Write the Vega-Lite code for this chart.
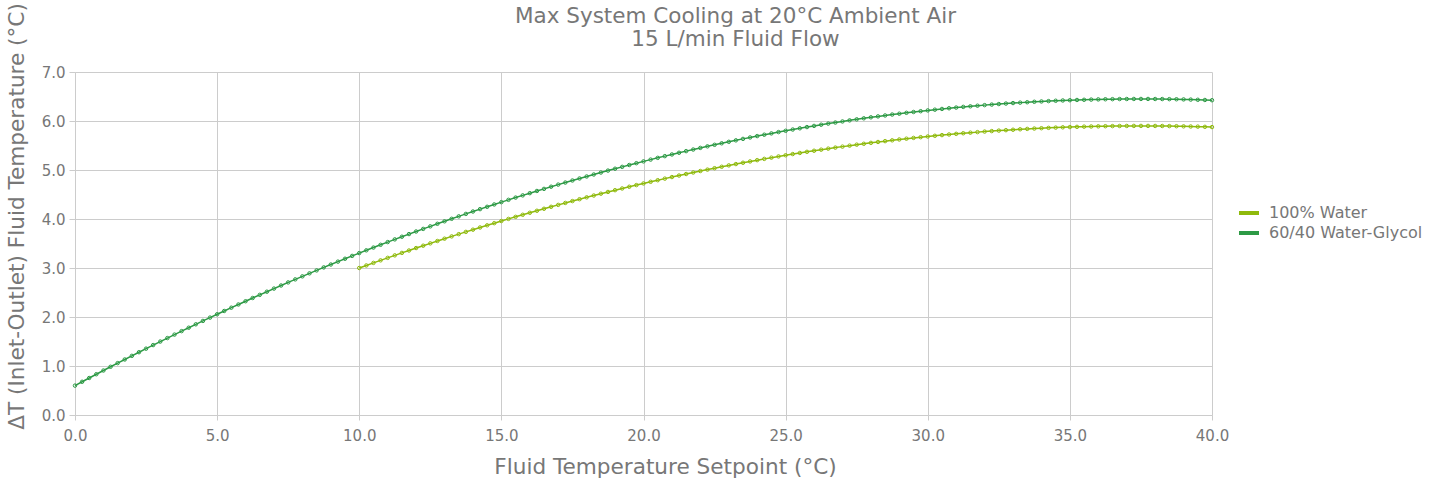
{
"$schema": "https://vega.github.io/schema/vega-lite/v6.json",
"autosize": {"type": "none"},
"width": 1137,
"height": 343,
"padding": {"left": 75, "top": 72, "right": 228, "bottom": 68},
"background": "white",
"title": {
  "text": ["Max System Cooling at 20°C Ambient Air", "15 L/min Fluid Flow\u00a0\u00a0\u00a0\u00a0"],
  "fontSize": 21.5, "font": "DejaVu Sans", "fontWeight": "normal", "color": "#777777",
  "lineHeight": 23, "anchor": "middle", "frame": "group", "dx": 92, "offset": -48
},
"config": {
  "view": {"stroke": null},
  "font": "DejaVu Sans",
  "axis": {
    "gridColor": "#cccccc", "domainColor": "#cccccc", "tickColor": "#cccccc",
    "labelColor": "#777777", "titleColor": "#777777", "labelFont": "DejaVu Sans", "titleFont": "DejaVu Sans",
    "labelFontSize": 15, "titleFontSize": 21.6, "titleFontWeight": "normal",
    "labelFlush": false, "labelOverlap": false
  },
  "legend": {"labelFont": "DejaVu Sans", "labelFontSize": 16, "labelColor": "#777777"}
},
"datasets": {
"d": [
{"x":0,"y":0.600,"s":"60/40 Water-Glycol"},{"x":0.25,"y":0.678,"s":"60/40 Water-Glycol"},{"x":0.5,"y":0.755,"s":"60/40 Water-Glycol"},{"x":0.75,"y":0.832,"s":"60/40 Water-Glycol"},
{"x":1,"y":0.908,"s":"60/40 Water-Glycol"},{"x":1.25,"y":0.984,"s":"60/40 Water-Glycol"},{"x":1.5,"y":1.059,"s":"60/40 Water-Glycol"},{"x":1.75,"y":1.133,"s":"60/40 Water-Glycol"},
{"x":2,"y":1.207,"s":"60/40 Water-Glycol"},{"x":2.25,"y":1.281,"s":"60/40 Water-Glycol"},{"x":2.5,"y":1.354,"s":"60/40 Water-Glycol"},{"x":2.75,"y":1.427,"s":"60/40 Water-Glycol"},
{"x":3,"y":1.499,"s":"60/40 Water-Glycol"},{"x":3.25,"y":1.570,"s":"60/40 Water-Glycol"},{"x":3.5,"y":1.641,"s":"60/40 Water-Glycol"},{"x":3.75,"y":1.712,"s":"60/40 Water-Glycol"},
{"x":4,"y":1.781,"s":"60/40 Water-Glycol"},{"x":4.25,"y":1.851,"s":"60/40 Water-Glycol"},{"x":4.5,"y":1.920,"s":"60/40 Water-Glycol"},{"x":4.75,"y":1.988,"s":"60/40 Water-Glycol"},
{"x":5,"y":2.056,"s":"60/40 Water-Glycol"},{"x":5.25,"y":2.123,"s":"60/40 Water-Glycol"},{"x":5.5,"y":2.190,"s":"60/40 Water-Glycol"},{"x":5.75,"y":2.256,"s":"60/40 Water-Glycol"},
{"x":6,"y":2.322,"s":"60/40 Water-Glycol"},{"x":6.25,"y":2.388,"s":"60/40 Water-Glycol"},{"x":6.5,"y":2.452,"s":"60/40 Water-Glycol"},{"x":6.75,"y":2.516,"s":"60/40 Water-Glycol"},
{"x":7,"y":2.580,"s":"60/40 Water-Glycol"},{"x":7.25,"y":2.643,"s":"60/40 Water-Glycol"},{"x":7.5,"y":2.706,"s":"60/40 Water-Glycol"},{"x":7.75,"y":2.768,"s":"60/40 Water-Glycol"},
{"x":8,"y":2.830,"s":"60/40 Water-Glycol"},{"x":8.25,"y":2.891,"s":"60/40 Water-Glycol"},{"x":8.5,"y":2.951,"s":"60/40 Water-Glycol"},{"x":8.75,"y":3.012,"s":"60/40 Water-Glycol"},
{"x":9,"y":3.071,"s":"60/40 Water-Glycol"},{"x":9.25,"y":3.130,"s":"60/40 Water-Glycol"},{"x":9.5,"y":3.189,"s":"60/40 Water-Glycol"},{"x":9.75,"y":3.247,"s":"60/40 Water-Glycol"},
{"x":10,"y":3.304,"s":"60/40 Water-Glycol"},{"x":10.25,"y":3.361,"s":"60/40 Water-Glycol"},{"x":10.5,"y":3.417,"s":"60/40 Water-Glycol"},{"x":10.75,"y":3.473,"s":"60/40 Water-Glycol"},
{"x":11,"y":3.529,"s":"60/40 Water-Glycol"},{"x":11.25,"y":3.584,"s":"60/40 Water-Glycol"},{"x":11.5,"y":3.638,"s":"60/40 Water-Glycol"},{"x":11.75,"y":3.692,"s":"60/40 Water-Glycol"},
{"x":12,"y":3.745,"s":"60/40 Water-Glycol"},{"x":12.25,"y":3.798,"s":"60/40 Water-Glycol"},{"x":12.5,"y":3.850,"s":"60/40 Water-Glycol"},{"x":12.75,"y":3.902,"s":"60/40 Water-Glycol"},
{"x":13,"y":3.953,"s":"60/40 Water-Glycol"},{"x":13.25,"y":4.004,"s":"60/40 Water-Glycol"},{"x":13.5,"y":4.054,"s":"60/40 Water-Glycol"},{"x":13.75,"y":4.104,"s":"60/40 Water-Glycol"},
{"x":14,"y":4.153,"s":"60/40 Water-Glycol"},{"x":14.25,"y":4.201,"s":"60/40 Water-Glycol"},{"x":14.5,"y":4.249,"s":"60/40 Water-Glycol"},{"x":14.75,"y":4.297,"s":"60/40 Water-Glycol"},
{"x":15,"y":4.344,"s":"60/40 Water-Glycol"},{"x":15.25,"y":4.391,"s":"60/40 Water-Glycol"},{"x":15.5,"y":4.437,"s":"60/40 Water-Glycol"},{"x":15.75,"y":4.482,"s":"60/40 Water-Glycol"},
{"x":16,"y":4.527,"s":"60/40 Water-Glycol"},{"x":16.25,"y":4.572,"s":"60/40 Water-Glycol"},{"x":16.5,"y":4.615,"s":"60/40 Water-Glycol"},{"x":16.75,"y":4.659,"s":"60/40 Water-Glycol"},
{"x":17,"y":4.702,"s":"60/40 Water-Glycol"},{"x":17.25,"y":4.744,"s":"60/40 Water-Glycol"},{"x":17.5,"y":4.786,"s":"60/40 Water-Glycol"},{"x":17.75,"y":4.827,"s":"60/40 Water-Glycol"},
{"x":18,"y":4.868,"s":"60/40 Water-Glycol"},{"x":18.25,"y":4.908,"s":"60/40 Water-Glycol"},{"x":18.5,"y":4.948,"s":"60/40 Water-Glycol"},{"x":18.75,"y":4.988,"s":"60/40 Water-Glycol"},
{"x":19,"y":5.026,"s":"60/40 Water-Glycol"},{"x":19.25,"y":5.064,"s":"60/40 Water-Glycol"},{"x":19.5,"y":5.102,"s":"60/40 Water-Glycol"},{"x":19.75,"y":5.139,"s":"60/40 Water-Glycol"},
{"x":20,"y":5.176,"s":"60/40 Water-Glycol"},{"x":20.25,"y":5.212,"s":"60/40 Water-Glycol"},{"x":20.5,"y":5.248,"s":"60/40 Water-Glycol"},{"x":20.75,"y":5.283,"s":"60/40 Water-Glycol"},
{"x":21,"y":5.317,"s":"60/40 Water-Glycol"},{"x":21.25,"y":5.352,"s":"60/40 Water-Glycol"},{"x":21.5,"y":5.385,"s":"60/40 Water-Glycol"},{"x":21.75,"y":5.418,"s":"60/40 Water-Glycol"},
{"x":22,"y":5.451,"s":"60/40 Water-Glycol"},{"x":22.25,"y":5.483,"s":"60/40 Water-Glycol"},{"x":22.5,"y":5.514,"s":"60/40 Water-Glycol"},{"x":22.75,"y":5.545,"s":"60/40 Water-Glycol"},
{"x":23,"y":5.575,"s":"60/40 Water-Glycol"},{"x":23.25,"y":5.605,"s":"60/40 Water-Glycol"},{"x":23.5,"y":5.635,"s":"60/40 Water-Glycol"},{"x":23.75,"y":5.664,"s":"60/40 Water-Glycol"},
{"x":24,"y":5.692,"s":"60/40 Water-Glycol"},{"x":24.25,"y":5.720,"s":"60/40 Water-Glycol"},{"x":24.5,"y":5.747,"s":"60/40 Water-Glycol"},{"x":24.75,"y":5.774,"s":"60/40 Water-Glycol"},
{"x":25,"y":5.800,"s":"60/40 Water-Glycol"},{"x":25.25,"y":5.826,"s":"60/40 Water-Glycol"},{"x":25.5,"y":5.851,"s":"60/40 Water-Glycol"},{"x":25.75,"y":5.876,"s":"60/40 Water-Glycol"},
{"x":26,"y":5.900,"s":"60/40 Water-Glycol"},{"x":26.25,"y":5.924,"s":"60/40 Water-Glycol"},{"x":26.5,"y":5.947,"s":"60/40 Water-Glycol"},{"x":26.75,"y":5.969,"s":"60/40 Water-Glycol"},
{"x":27,"y":5.991,"s":"60/40 Water-Glycol"},{"x":27.25,"y":6.013,"s":"60/40 Water-Glycol"},{"x":27.5,"y":6.034,"s":"60/40 Water-Glycol"},{"x":27.75,"y":6.055,"s":"60/40 Water-Glycol"},
{"x":28,"y":6.075,"s":"60/40 Water-Glycol"},{"x":28.25,"y":6.094,"s":"60/40 Water-Glycol"},{"x":28.5,"y":6.113,"s":"60/40 Water-Glycol"},{"x":28.75,"y":6.132,"s":"60/40 Water-Glycol"},
{"x":29,"y":6.149,"s":"60/40 Water-Glycol"},{"x":29.25,"y":6.167,"s":"60/40 Water-Glycol"},{"x":29.5,"y":6.184,"s":"60/40 Water-Glycol"},{"x":29.75,"y":6.200,"s":"60/40 Water-Glycol"},
{"x":30,"y":6.216,"s":"60/40 Water-Glycol"},{"x":30.25,"y":6.231,"s":"60/40 Water-Glycol"},{"x":30.5,"y":6.246,"s":"60/40 Water-Glycol"},{"x":30.75,"y":6.260,"s":"60/40 Water-Glycol"},
{"x":31,"y":6.274,"s":"60/40 Water-Glycol"},{"x":31.25,"y":6.288,"s":"60/40 Water-Glycol"},{"x":31.5,"y":6.300,"s":"60/40 Water-Glycol"},{"x":31.75,"y":6.312,"s":"60/40 Water-Glycol"},
{"x":32,"y":6.324,"s":"60/40 Water-Glycol"},{"x":32.25,"y":6.335,"s":"60/40 Water-Glycol"},{"x":32.5,"y":6.346,"s":"60/40 Water-Glycol"},{"x":32.75,"y":6.356,"s":"60/40 Water-Glycol"},
{"x":33,"y":6.366,"s":"60/40 Water-Glycol"},{"x":33.25,"y":6.375,"s":"60/40 Water-Glycol"},{"x":33.5,"y":6.383,"s":"60/40 Water-Glycol"},{"x":33.75,"y":6.392,"s":"60/40 Water-Glycol"},
{"x":34,"y":6.399,"s":"60/40 Water-Glycol"},{"x":34.25,"y":6.406,"s":"60/40 Water-Glycol"},{"x":34.5,"y":6.413,"s":"60/40 Water-Glycol"},{"x":34.75,"y":6.419,"s":"60/40 Water-Glycol"},
{"x":35,"y":6.424,"s":"60/40 Water-Glycol"},{"x":35.25,"y":6.429,"s":"60/40 Water-Glycol"},{"x":35.5,"y":6.433,"s":"60/40 Water-Glycol"},{"x":35.75,"y":6.437,"s":"60/40 Water-Glycol"},
{"x":36,"y":6.441,"s":"60/40 Water-Glycol"},{"x":36.25,"y":6.444,"s":"60/40 Water-Glycol"},{"x":36.5,"y":6.446,"s":"60/40 Water-Glycol"},{"x":36.75,"y":6.448,"s":"60/40 Water-Glycol"},
{"x":37,"y":6.449,"s":"60/40 Water-Glycol"},{"x":37.25,"y":6.450,"s":"60/40 Water-Glycol"},{"x":37.5,"y":6.450,"s":"60/40 Water-Glycol"},{"x":37.75,"y":6.450,"s":"60/40 Water-Glycol"},
{"x":38,"y":6.449,"s":"60/40 Water-Glycol"},{"x":38.25,"y":6.448,"s":"60/40 Water-Glycol"},{"x":38.5,"y":6.446,"s":"60/40 Water-Glycol"},{"x":38.75,"y":6.444,"s":"60/40 Water-Glycol"},
{"x":39,"y":6.441,"s":"60/40 Water-Glycol"},{"x":39.25,"y":6.437,"s":"60/40 Water-Glycol"},{"x":39.5,"y":6.433,"s":"60/40 Water-Glycol"},{"x":39.75,"y":6.429,"s":"60/40 Water-Glycol"},
{"x":40,"y":6.424,"s":"60/40 Water-Glycol"},
{"x":10,"y":3.000,"s":"100% Water"},{"x":10.25,"y":3.052,"s":"100% Water"},{"x":10.5,"y":3.104,"s":"100% Water"},{"x":10.75,"y":3.156,"s":"100% Water"},
{"x":11,"y":3.207,"s":"100% Water"},{"x":11.25,"y":3.258,"s":"100% Water"},{"x":11.5,"y":3.308,"s":"100% Water"},{"x":11.75,"y":3.357,"s":"100% Water"},
{"x":12,"y":3.407,"s":"100% Water"},{"x":12.25,"y":3.455,"s":"100% Water"},{"x":12.5,"y":3.503,"s":"100% Water"},{"x":12.75,"y":3.551,"s":"100% Water"},
{"x":13,"y":3.598,"s":"100% Water"},{"x":13.25,"y":3.645,"s":"100% Water"},{"x":13.5,"y":3.691,"s":"100% Water"},{"x":13.75,"y":3.737,"s":"100% Water"},
{"x":14,"y":3.782,"s":"100% Water"},{"x":14.25,"y":3.827,"s":"100% Water"},{"x":14.5,"y":3.871,"s":"100% Water"},{"x":14.75,"y":3.915,"s":"100% Water"},
{"x":15,"y":3.959,"s":"100% Water"},{"x":15.25,"y":4.002,"s":"100% Water"},{"x":15.5,"y":4.044,"s":"100% Water"},{"x":15.75,"y":4.086,"s":"100% Water"},
{"x":16,"y":4.127,"s":"100% Water"},{"x":16.25,"y":4.168,"s":"100% Water"},{"x":16.5,"y":4.209,"s":"100% Water"},{"x":16.75,"y":4.249,"s":"100% Water"},
{"x":17,"y":4.288,"s":"100% Water"},{"x":17.25,"y":4.328,"s":"100% Water"},{"x":17.5,"y":4.366,"s":"100% Water"},{"x":17.75,"y":4.404,"s":"100% Water"},
{"x":18,"y":4.442,"s":"100% Water"},{"x":18.25,"y":4.479,"s":"100% Water"},{"x":18.5,"y":4.516,"s":"100% Water"},{"x":18.75,"y":4.552,"s":"100% Water"},
{"x":19,"y":4.588,"s":"100% Water"},{"x":19.25,"y":4.623,"s":"100% Water"},{"x":19.5,"y":4.658,"s":"100% Water"},{"x":19.75,"y":4.692,"s":"100% Water"},
{"x":20,"y":4.726,"s":"100% Water"},{"x":20.25,"y":4.759,"s":"100% Water"},{"x":20.5,"y":4.792,"s":"100% Water"},{"x":20.75,"y":4.824,"s":"100% Water"},
{"x":21,"y":4.856,"s":"100% Water"},{"x":21.25,"y":4.887,"s":"100% Water"},{"x":21.5,"y":4.918,"s":"100% Water"},{"x":21.75,"y":4.949,"s":"100% Water"},
{"x":22,"y":4.979,"s":"100% Water"},{"x":22.25,"y":5.008,"s":"100% Water"},{"x":22.5,"y":5.037,"s":"100% Water"},{"x":22.75,"y":5.066,"s":"100% Water"},
{"x":23,"y":5.094,"s":"100% Water"},{"x":23.25,"y":5.121,"s":"100% Water"},{"x":23.5,"y":5.148,"s":"100% Water"},{"x":23.75,"y":5.175,"s":"100% Water"},
{"x":24,"y":5.201,"s":"100% Water"},{"x":24.25,"y":5.227,"s":"100% Water"},{"x":24.5,"y":5.252,"s":"100% Water"},{"x":24.75,"y":5.277,"s":"100% Water"},
{"x":25,"y":5.301,"s":"100% Water"},{"x":25.25,"y":5.325,"s":"100% Water"},{"x":25.5,"y":5.348,"s":"100% Water"},{"x":25.75,"y":5.371,"s":"100% Water"},
{"x":26,"y":5.393,"s":"100% Water"},{"x":26.25,"y":5.415,"s":"100% Water"},{"x":26.5,"y":5.436,"s":"100% Water"},{"x":26.75,"y":5.457,"s":"100% Water"},
{"x":27,"y":5.477,"s":"100% Water"},{"x":27.25,"y":5.497,"s":"100% Water"},{"x":27.5,"y":5.517,"s":"100% Water"},{"x":27.75,"y":5.535,"s":"100% Water"},
{"x":28,"y":5.554,"s":"100% Water"},{"x":28.25,"y":5.572,"s":"100% Water"},{"x":28.5,"y":5.589,"s":"100% Water"},{"x":28.75,"y":5.606,"s":"100% Water"},
{"x":29,"y":5.623,"s":"100% Water"},{"x":29.25,"y":5.639,"s":"100% Water"},{"x":29.5,"y":5.655,"s":"100% Water"},{"x":29.75,"y":5.670,"s":"100% Water"},
{"x":30,"y":5.684,"s":"100% Water"},{"x":30.25,"y":5.698,"s":"100% Water"},{"x":30.5,"y":5.712,"s":"100% Water"},{"x":30.75,"y":5.725,"s":"100% Water"},
{"x":31,"y":5.738,"s":"100% Water"},{"x":31.25,"y":5.750,"s":"100% Water"},{"x":31.5,"y":5.762,"s":"100% Water"},{"x":31.75,"y":5.773,"s":"100% Water"},
{"x":32,"y":5.784,"s":"100% Water"},{"x":32.25,"y":5.794,"s":"100% Water"},{"x":32.5,"y":5.804,"s":"100% Water"},{"x":32.75,"y":5.813,"s":"100% Water"},
{"x":33,"y":5.822,"s":"100% Water"},{"x":33.25,"y":5.831,"s":"100% Water"},{"x":33.5,"y":5.839,"s":"100% Water"},{"x":33.75,"y":5.846,"s":"100% Water"},
{"x":34,"y":5.853,"s":"100% Water"},{"x":34.25,"y":5.860,"s":"100% Water"},{"x":34.5,"y":5.865,"s":"100% Water"},{"x":34.75,"y":5.871,"s":"100% Water"},
{"x":35,"y":5.876,"s":"100% Water"},{"x":35.25,"y":5.881,"s":"100% Water"},{"x":35.5,"y":5.885,"s":"100% Water"},{"x":35.75,"y":5.888,"s":"100% Water"},
{"x":36,"y":5.891,"s":"100% Water"},{"x":36.25,"y":5.894,"s":"100% Water"},{"x":36.5,"y":5.896,"s":"100% Water"},{"x":36.75,"y":5.898,"s":"100% Water"},
{"x":37,"y":5.899,"s":"100% Water"},{"x":37.25,"y":5.900,"s":"100% Water"},{"x":37.5,"y":5.900,"s":"100% Water"},{"x":37.75,"y":5.900,"s":"100% Water"},
{"x":38,"y":5.899,"s":"100% Water"},{"x":38.25,"y":5.898,"s":"100% Water"},{"x":38.5,"y":5.896,"s":"100% Water"},{"x":38.75,"y":5.894,"s":"100% Water"},
{"x":39,"y":5.891,"s":"100% Water"},{"x":39.25,"y":5.888,"s":"100% Water"},{"x":39.5,"y":5.885,"s":"100% Water"},{"x":39.75,"y":5.881,"s":"100% Water"},
{"x":40,"y":5.876,"s":"100% Water"}
]
},
"data": {"name": "d"},
"encoding": {
  "x": {"field": "x", "type": "quantitative",
    "scale": {"domain": [0, 40], "nice": false},
    "axis": {"values": [0,5,10,15,20,25,30,35,40], "format": ".1f", "title": "Fluid Temperature Setpoint (°C)",
      "tickSize": 5, "labelPadding": 8, "titleX": 590, "titleY": 58, "titleBaseline": "alphabetic", "titleAnchor": null}},
  "y": {"field": "y", "type": "quantitative",
    "scale": {"domain": [0, 7], "nice": false},
    "axis": {"values": [0,1,2,3,4,5,6,7], "format": ".1f", "title": "ΔT (Inlet-Outlet) Fluid Temperature (°C)",
      "tickSize": 6, "labelPadding": 4, "titleX": -52, "titleY": 144, "titleBaseline": "alphabetic", "titleAngle": 270, "titleAlign": "center"}},
  "color": {"field": "s", "type": "nominal",
    "scale": {"domain": ["100% Water", "60/40 Water-Glycol"], "range": ["#8fba0c", "#2d9a45"]}}
},
"layer": [
  {"mark": {"type": "line", "strokeWidth": 1.5},
   "encoding": {"color": {"field": "s", "type": "nominal",
      "scale": {"domain": ["100% Water", "60/40 Water-Glycol"], "range": ["#8fba0c", "#2d9a45"]},
      "legend": {"title": null, "orient": "none", "legendX": 1162, "legendY": 129, "symbolType": "stroke",
        "symbolSize": 400, "symbolStrokeWidth": 4, "labelOffset": 8, "rowPadding": -2}}}},
  {"mark": {"type": "point", "shape": "circle", "filled": false, "size": 12, "strokeWidth": 1, "opacity": 1},
   "encoding": {"color": {"field": "s", "type": "nominal", "legend": null,
      "scale": {"domain": ["100% Water", "60/40 Water-Glycol"], "range": ["#8fba0c", "#2d9a45"]}}}}
]
}
